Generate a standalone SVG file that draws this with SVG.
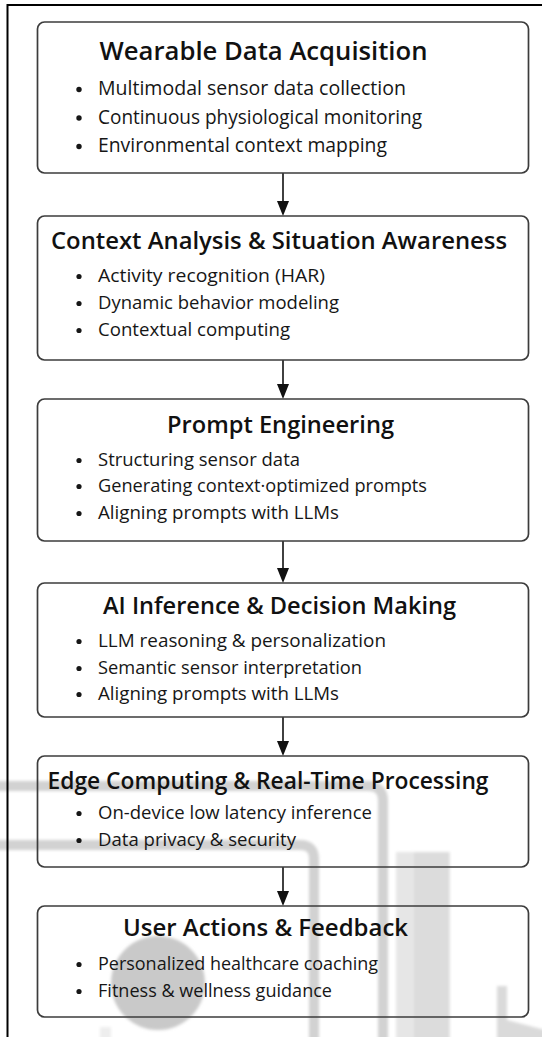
<svg xmlns="http://www.w3.org/2000/svg" width="542" height="1037" viewBox="0 0 542 1037">
  <style>
    .box { fill: none; stroke: #3c3c3c; stroke-width: 1.7; }
    .title { font-family: "Open Sans", "Liberation Sans", sans-serif; font-weight: 600; font-size: 24px; fill: #111; }
    .item { font-family: "Open Sans", "Liberation Sans", sans-serif; font-weight: 400; font-size: 18.5px; fill: #161616; }
    .big { font-size: 19.3px; }
    .dot { fill: #161616; }
    .stem { stroke: #111; stroke-width: 1.6; fill: none; }
    .head { fill: #111; }
    .wm { fill: none; stroke: #d2d2d2; }
  </style>
  <defs>
    <filter id="soft" x="-10%" y="-10%" width="120%" height="120%">
      <feGaussianBlur stdDeviation="1.4"/>
    </filter>
  </defs>

  <rect x="0" y="0" width="542" height="1037" fill="#fff"/>

  <!-- faint background emblem -->
  <g id="emblem" filter="url(#soft)">
    <path class="wm" stroke-width="10" d="M-10,786 H368 Q383,786 383,801 V1045"/>
    <path class="wm" stroke-width="10" d="M-10,845 H300 Q314,845 314,859 V1045"/>
    <rect x="396" y="852" width="54" height="190" fill="#e6e6e6"/>
    <rect x="414" y="852" width="35" height="190" fill="#dcdcdc"/>
    <path d="M497,986 H507 V1020 L545,1030 V1045 H497 Z" fill="#dadada"/>
    <circle cx="158" cy="983" r="47" fill="#c9c9c9"/>
    <rect x="100" y="1027" width="11" height="12" fill="#eeeeee"/>
  </g>

  <!-- page frame -->
  <path d="M7.5,1037 V5 H542" fill="none" stroke="#000" stroke-width="2"/>

  <g id="connectors">
    <line class="stem" x1="283" y1="173" x2="283" y2="203"/>
    <polygon class="head" points="277,201 289,201 283,216"/>
    <line class="stem" x1="283" y1="360" x2="283" y2="386"/>
    <polygon class="head" points="277,384 289,384 283,399"/>
    <line class="stem" x1="283" y1="541" x2="283" y2="570"/>
    <polygon class="head" points="277,568 289,568 283,583"/>
    <line class="stem" x1="283" y1="717" x2="283" y2="743"/>
    <polygon class="head" points="277,741 289,741 283,756"/>
    <line class="stem" x1="283" y1="867" x2="283" y2="893"/>
    <polygon class="head" points="277,891 289,891 283,906"/>
  </g>

  <g id="acquisition">
    <rect class="box" x="37.5" y="22" width="491" height="151" rx="7"/>
    <text class="title" x="99.5" y="60" style="font-size:25px" textLength="328" lengthAdjust="spacingAndGlyphs">Wearable Data Acquisition</text>
    <circle class="dot" cx="79" cy="89.5" r="2.7"/>
    <text class="item big" x="98" y="95" textLength="308" lengthAdjust="spacingAndGlyphs">Multimodal sensor data collection</text>
    <circle class="dot" cx="79" cy="118" r="2.7"/>
    <text class="item big" x="98" y="123.5" textLength="324" lengthAdjust="spacingAndGlyphs">Continuous physiological monitoring</text>
    <circle class="dot" cx="79" cy="146.5" r="2.7"/>
    <text class="item big" x="98" y="152" textLength="289" lengthAdjust="spacingAndGlyphs">Environmental context mapping</text>
  </g>

  <g id="context">
    <rect class="box" x="37.5" y="216" width="491" height="144" rx="7"/>
    <text class="title" x="51" y="249" textLength="456" lengthAdjust="spacingAndGlyphs">Context Analysis &amp; Situation Awareness</text>
    <circle class="dot" cx="79" cy="276.5" r="2.6"/>
    <text class="item" x="98" y="282" textLength="227" lengthAdjust="spacingAndGlyphs">Activity recognition (HAR)</text>
    <circle class="dot" cx="79" cy="303.5" r="2.6"/>
    <text class="item" x="98" y="309" textLength="241" lengthAdjust="spacingAndGlyphs">Dynamic behavior modeling</text>
    <circle class="dot" cx="79" cy="330.5" r="2.6"/>
    <text class="item" x="98" y="336" textLength="192" lengthAdjust="spacingAndGlyphs">Contextual computing</text>
  </g>

  <g id="prompt">
    <rect class="box" x="37.5" y="399" width="491" height="142" rx="7"/>
    <text class="title" x="167" y="433" textLength="227" lengthAdjust="spacingAndGlyphs">Prompt Engineering</text>
    <circle class="dot" cx="79" cy="460.5" r="2.6"/>
    <text class="item" x="98" y="466" textLength="202" lengthAdjust="spacingAndGlyphs">Structuring sensor data</text>
    <circle class="dot" cx="79" cy="486.5" r="2.6"/>
    <text class="item" x="98" y="492" textLength="329" lengthAdjust="spacingAndGlyphs">Generating context·optimized prompts</text>
    <circle class="dot" cx="79" cy="513.5" r="2.6"/>
    <text class="item" x="98" y="519" textLength="241" lengthAdjust="spacingAndGlyphs">Aligning prompts with LLMs</text>
  </g>

  <g id="inference">
    <rect class="box" x="37.5" y="583" width="491" height="134" rx="7"/>
    <text class="title" x="103" y="614" textLength="353" lengthAdjust="spacingAndGlyphs">AI Inference &amp; Decision Making</text>
    <circle class="dot" cx="79" cy="641.5" r="2.6"/>
    <text class="item" x="98" y="647" textLength="288" lengthAdjust="spacingAndGlyphs">LLM reasoning &amp; personalization</text>
    <circle class="dot" cx="79" cy="668.5" r="2.6"/>
    <text class="item" x="98" y="674" textLength="264" lengthAdjust="spacingAndGlyphs">Semantic sensor interpretation</text>
    <circle class="dot" cx="79" cy="694.5" r="2.6"/>
    <text class="item" x="98" y="700" textLength="241" lengthAdjust="spacingAndGlyphs">Aligning prompts with LLMs</text>
  </g>

  <g id="edge">
    <rect class="box" x="37.5" y="756" width="491" height="111" rx="7"/>
    <text class="title" x="47.5" y="789" textLength="441" lengthAdjust="spacingAndGlyphs">Edge Computing &amp; Real-Time Processing</text>
    <circle class="dot" cx="79" cy="813.5" r="2.6"/>
    <text class="item" x="98" y="819" textLength="274" lengthAdjust="spacingAndGlyphs">On-device low latency inference</text>
    <circle class="dot" cx="79" cy="840.5" r="2.6"/>
    <text class="item" x="98" y="846" textLength="198" lengthAdjust="spacingAndGlyphs">Data privacy &amp; security</text>
  </g>

  <g id="feedback">
    <rect class="box" x="37.5" y="906" width="491" height="111" rx="7"/>
    <text class="title" x="123" y="936" textLength="285" lengthAdjust="spacingAndGlyphs">User Actions &amp; Feedback</text>
    <circle class="dot" cx="79" cy="964.5" r="2.6"/>
    <text class="item" x="98" y="970" textLength="280" lengthAdjust="spacingAndGlyphs">Personalized healthcare coaching</text>
    <circle class="dot" cx="79" cy="991.5" r="2.6"/>
    <text class="item" x="98" y="997" textLength="234" lengthAdjust="spacingAndGlyphs">Fitness &amp; wellness guidance</text>
  </g>
</svg>
